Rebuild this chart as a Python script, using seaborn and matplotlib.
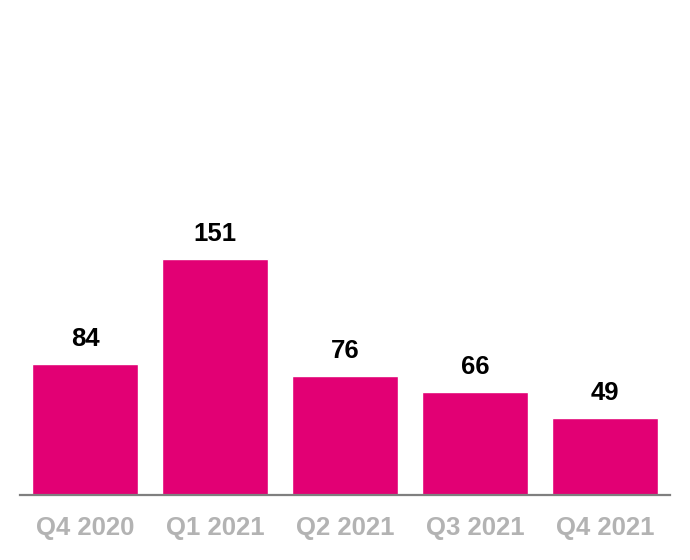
import matplotlib
matplotlib.use("Agg")
import matplotlib.pyplot as plt
import seaborn as sns
import pandas as pd

quarters = ["Q4 2020", "Q1 2021", "Q2 2021", "Q3 2021", "Q4 2021"]
values = [84, 151, 76, 66, 49]

sns.set_style("white")
plt.rcParams["font.family"] = ["Liberation Sans", "DejaVu Sans"]

df = pd.DataFrame({"quarter": quarters, "value": values})

fig = plt.figure(figsize=(6.9, 5.6), dpi=100)
ax = fig.add_axes([20/690, (560-495)/560, 650/690, 485/560])
sns.barplot(data=df, x="quarter", y="value", color="#E20074", saturation=1,
            width=0.815, ax=ax)

ax.set_xlim(-0.5, 4.5)
ax.set_ylim(0, 485/1.565)
for i, v in enumerate(values):
    ax.annotate(str(v), (i, v), xytext=(0, 13), textcoords="offset pixels",
                ha="center", va="bottom", fontsize=18.5, fontweight="bold",
                color="black")

for s in ["top", "right", "left"]:
    ax.spines[s].set_visible(False)
ax.spines["bottom"].set_color("#7f7f7f")
ax.spines["bottom"].set_linewidth(1.6)
ax.set_yticks([])
ax.set_xlabel("")
ax.set_ylabel("")
ax.tick_params(axis="x", length=0, pad=15, labelsize=18.5, labelcolor="#b3b3b3")
for lbl in ax.get_xticklabels():
    lbl.set_fontweight("bold")

fig.savefig("out.png", dpi=100)
